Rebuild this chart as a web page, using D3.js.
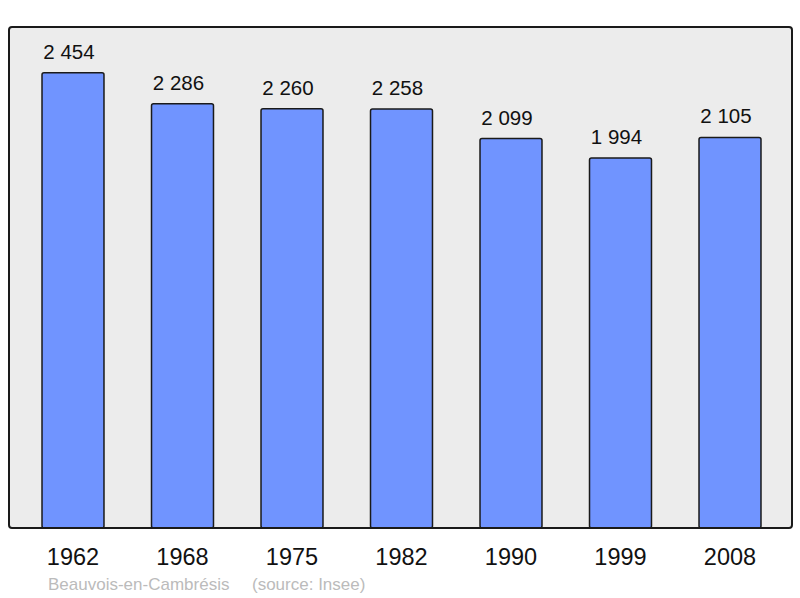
<!DOCTYPE html>
<html>
<head>
<meta charset="utf-8">
<title>Beauvois-en-Cambrésis</title>
<script src="https://d3js.org/d3.v7.min.js"></script>
<style>
  body { margin: 0; background: #fff; }
  text { font-family: "Liberation Sans", Arial, sans-serif; }
</style>
</head>
<body>
<script>
var years = ["1962", "1968", "1975", "1982", "1990", "1999", "2008"];
var population = [2454, 2286, 2260, 2258, 2099, 1994, 2105];
var place = "Beauvois-en-Cambrésis";
var source = "(source: Insee)";

var w = 800, h = 598;
var frame = { left: 9, top: 27, right: 792, bottom: 528 };

var svg = d3.select("body").append("svg")
    .attr("width", w)
    .attr("height", h);

var x = d3.scaleBand()
    .domain(years)
    .range([18.25, 784.75])
    .paddingInner(0.434)
    .paddingOuter(0.217);

var y = d3.scaleLinear()
    .domain([0, 2700])
    .range([frame.bottom, frame.top]);

// fond du graphique
svg.append("rect")
    .attr("x", frame.left)
    .attr("y", frame.top)
    .attr("width", frame.right - frame.left)
    .attr("height", frame.bottom - frame.top)
    .attr("rx", 3)
    .attr("fill", "#ececec");

// barres
svg.selectAll("rect.bar")
    .data(population)
    .enter()
    .append("rect")
    .attr("class", "bar")
    .attr("x", function (d, i) { return x(years[i]); })
    .attr("y", function (d) { return y(d); })
    .attr("width", x.bandwidth())
    .attr("height", function (d) { return y(0) - y(d); })
    .attr("rx", 2)
    .attr("fill", "#7094ff")
    .attr("stroke", "#1a1a1a")
    .attr("stroke-width", 1.5);

// cadre
svg.append("rect")
    .attr("x", frame.left)
    .attr("y", frame.top)
    .attr("width", frame.right - frame.left)
    .attr("height", frame.bottom - frame.top)
    .attr("rx", 3)
    .attr("fill", "none")
    .attr("stroke", "#1a1a1a")
    .attr("stroke-width", 2);

// valeurs
svg.selectAll("text.val")
    .data(population)
    .enter()
    .append("text")
    .attr("class", "val")
    .attr("x", function (d, i) { return x(years[i]) + x.bandwidth() / 2 - 4; })
    .attr("y", function (d) { return y(d) - 14; })
    .attr("text-anchor", "middle")
    .attr("font-size", 20.5)
    .attr("fill", "#111")
    .text(function (d) { return d3.format(",")(d).replace(",", " "); });

// années
var axis = d3.axisBottom(x).tickSize(0).tickPadding(0);
var gx = svg.append("g")
    .attr("transform", "translate(0," + frame.bottom + ")")
    .call(axis);
gx.select(".domain").remove();
gx.selectAll("text")
    .attr("y", 37)
    .attr("dy", null)
    .attr("font-size", 23.5)
    .attr("font-family", "Liberation Sans, Arial, sans-serif")
    .attr("fill", "#111");

// source
svg.append("text")
    .attr("x", 48)
    .attr("y", 590)
    .attr("font-size", 17)
    .attr("fill", "#bbb")
    .text(place);
svg.append("text")
    .attr("x", 252)
    .attr("y", 590)
    .attr("font-size", 17)
    .attr("fill", "#bbb")
    .text(source);
</script>
</body>
</html>
